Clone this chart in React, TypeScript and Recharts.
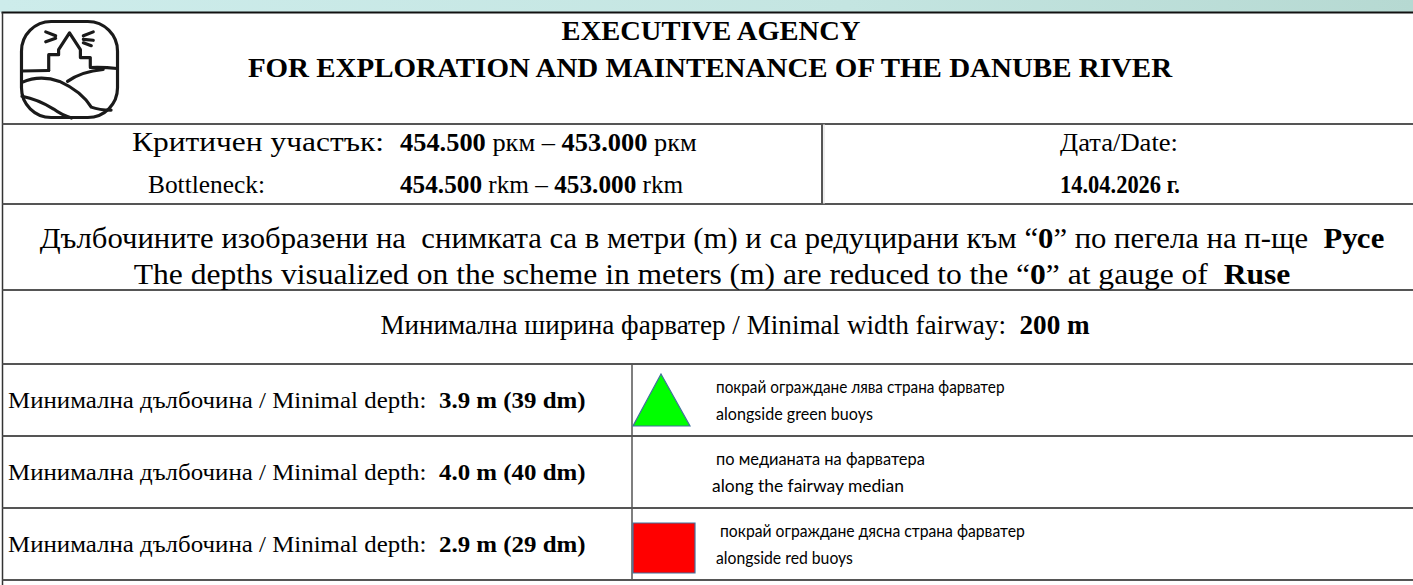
import React, { useLayoutEffect, useRef, useState } from 'react';
import { Surface, Layer, Rectangle, Polygon } from 'recharts';

// ---- content / data ----
const agencyLines = ['EXECUTIVE AGENCY', 'FOR EXPLORATION AND MAINTENANCE OF THE DANUBE RIVER'];
const sectionKm = ['454.500', '453.000'];
const surveyDate = '14.04.2026 г.';
const gaugeBg = 'Русе';
const gaugeEn = 'Ruse';
const minWidthM = 200;
const depthMeters = [3.9, 4.0, 2.9];
const depthLegendBg = [
  'покрай ограждане лява страна фарватер',
  'по медианата на фарватера',
  'покрай ограждане дясна страна фарватер',
];
const depthLegendEn = ['alongside green buoys', 'along the fairway median', 'alongside red buoys'];
const depthMarkers = ['triangle', 'none', 'square'];
const markerFills = ['#00ff00', 'none', '#ff0000'];

// ---- layout ----
const W = 1413;
const H = 585;
const TOP = 12.5;
const LEFT = 2.5;
const rowLines = [124, 204, 290, 364, 436, 508, 580];
const SERIF = '"Liberation Serif", "Times New Roman", serif';
const SANS = 'Lato, "Open Sans", sans-serif';
const LINE = '#555';
const legendBgX = [[716, 1005], [716, 925], [720, 1025]];
const legendEnX = [[716, 873], [712, 904], [716, 853]];

type FitProps = {
  x: number;
  y: number;
  width: number;
  anchor?: 'start' | 'middle';
  size: number;
  bold?: boolean;
  family?: string;
  children: React.ReactNode;
};

function FitText({ x, y, width, anchor = 'start', size, bold, family = SERIF, children }: FitProps) {
  const ref = useRef<SVGTextElement | null>(null);
  const [sx, setSx] = useState(1);
  useLayoutEffect(() => {
    if (ref.current) {
      const w = ref.current.getBBox().width;
      if (w > 0) setSx(width / w);
    }
  }, [width, size]);
  return (
    <g transform={`translate(${x},${y}) scale(${sx},1)`}>
      <text
        ref={ref}
        x={0}
        y={0}
        textAnchor={anchor}
        fontFamily={family}
        fontSize={size}
        fontWeight={bold ? 'bold' : 'normal'}
        fill="#000"
        style={{ whiteSpace: 'pre' }}
      >
        {children}
      </text>
    </g>
  );
}

function Logo({ x, y, s }: { x: number; y: number; s: number }) {
  const k = s / 100;
  return (
    <g transform={`translate(${x},${y}) scale(${k})`} fill="none" stroke="#1a1a1a" strokeWidth={3.2} strokeLinejoin="round" strokeLinecap="round">
      <rect x={1.5} y={1.5} width={97} height={97} rx={30} ry={30} />
      <path d="M26 12 L36 16 M26 22 L36 18.5" />
      <path d="M64 16 L74 12 M64 19.5 L74 20.5 M64 23 L72 26" />
      <path d="M29 51 L29 35 L39 35 L39 30 L50 13 L61 30 L61 38 L71 38 L71 47" />
      <path d="M2 51.5 Q15 51 29 51 M71 48 Q85 47.5 98 49" />
      <path d="M48 62 Q62 52 84 50" />
      <path d="M2 63 Q20 55 40 62 Q62 72 72 88 Q80 91 92 91" />
      <path d="M2 77 Q18 80 34 90 Q42 96 52 99" />
    </g>
  );
}

export default function App() {
  const depthRowTops = rowLines.slice(3, 6);
  return (
    <div style={{ position: 'fixed', left: 0, top: 0, width: W, height: H, background: '#fff' }}>
      <Surface width={W} height={H} viewBox={{ x: 0, y: 0, width: W, height: H }}>
        <defs>
          <linearGradient id="band" x1="0" x2="1" y1="0" y2="0">
            <stop offset="0" stopColor="#cdeceb" />
            <stop offset="0.6" stopColor="#c4e5e1" />
            <stop offset="1" stopColor="#b6d9d2" />
          </linearGradient>
        </defs>
        <rect x={0} y={0} width={W} height={TOP} fill="url(#band)" />
        <rect x={0} y={TOP} width={W} height={H - TOP} fill="#fff" />

        <Layer>
          <line x1={LEFT - 1} x2={W} y1={TOP} y2={TOP} stroke="#111" strokeWidth={2} />
          <line x1={LEFT} x2={LEFT} y1={TOP} y2={H} stroke="#333" strokeWidth={1.5} />
          {rowLines.map((y) => (
            <line key={y} x1={LEFT} x2={W} y1={y} y2={y} stroke={LINE} strokeWidth={2} />
          ))}
          <line x1={822} x2={822} y1={rowLines[0]} y2={rowLines[1]} stroke={LINE} strokeWidth={2} />
          <line x1={824} x2={824} y1={rowLines[0]} y2={rowLines[1]} stroke="#ddd" strokeWidth={1} />
          <line x1={632} x2={632} y1={rowLines[3]} y2={rowLines[6]} stroke={LINE} strokeWidth={1.5} />
        </Layer>

        <Logo x={20} y={20} s={99} />

        <FitText x={711} y={40} width={299} anchor="middle" size={27} bold>{agencyLines[0]}</FitText>
        <FitText x={710} y={77} width={925} anchor="middle" size={27} bold>{agencyLines[1]}</FitText>

        <FitText x={132} y={151} width={252} size={27}>Критичен участък:</FitText>
        <FitText x={400} y={151} width={297} size={25}>
          <tspan fontWeight="bold">{sectionKm[0]}</tspan>
          <tspan> ркм – </tspan>
          <tspan fontWeight="bold">{sectionKm[1]}</tspan>
          <tspan> ркм</tspan>
        </FitText>
        <FitText x={148} y={193} width={117} size={25}>Bottleneck:</FitText>
        <FitText x={400} y={193} width={284} size={25}>
          <tspan fontWeight="bold">{sectionKm[0]}</tspan>
          <tspan> rkm – </tspan>
          <tspan fontWeight="bold">{sectionKm[1]}</tspan>
          <tspan> rkm</tspan>
        </FitText>

        <FitText x={1119} y={151} width={118} anchor="middle" size={26}>Дата/Date:</FitText>
        <FitText x={1120} y={193} width={120} anchor="middle" size={26} bold>{surveyDate}</FitText>

        <FitText x={712} y={248} width={1345} anchor="middle" size={30}>
          <tspan>Дълбочините изобразени на  снимката са в метри (m) и са редуцирани към “</tspan>
          <tspan fontWeight="bold">0</tspan>
          <tspan>” по пегела на п-ще  </tspan>
          <tspan fontWeight="bold">{gaugeBg}</tspan>
        </FitText>
        <FitText x={712} y={284} width={1157} anchor="middle" size={30}>
          <tspan>The depths visualized on the scheme in meters (m) are reduced to the “</tspan>
          <tspan fontWeight="bold">0</tspan>
          <tspan>” at gauge of  </tspan>
          <tspan fontWeight="bold">{gaugeEn}</tspan>
        </FitText>

        <FitText x={735} y={334} width={710} anchor="middle" size={27}>
          <tspan>Минимална ширина фарватер / Minimal width fairway:  </tspan>
          <tspan fontWeight="bold">{`${minWidthM} m`}</tspan>
        </FitText>

        {depthMeters.map((d, i) => (
          <FitText key={i} x={8} y={depthRowTops[i] + 44} width={578} size={24}>
            <tspan>Минимална дълбочина / Minimal depth:  </tspan>
            <tspan fontWeight="bold">{`${d.toFixed(1)} m (${Math.round(d * 10)} dm)`}</tspan>
          </FitText>
        ))}

        {depthMarkers.map((m, i) => {
          const top = depthRowTops[i];
          if (m === 'triangle') {
            return (
              <Polygon
                key={i}
                points={[
                  { x: 661, y: top + 10 },
                  { x: 690, y: top + 62 },
                  { x: 633, y: top + 62 },
                ]}
                fill={markerFills[i]}
                stroke="#41719c"
                strokeWidth={1.2}
              />
            );
          }
          if (m === 'square') {
            return (
              <Rectangle key={i} x={633} y={top + 15} width={62} height={50} fill={markerFills[i]} stroke="#41719c" strokeWidth={1.2} />
            );
          }
          return null;
        })}

        {depthLegendBg.map((t, i) => (
          <FitText key={`bg${i}`} x={legendBgX[i][0]} y={depthRowTops[i] + 29} width={legendBgX[i][1] - legendBgX[i][0]} size={17.5} family={SANS}>{t}</FitText>
        ))}
        {depthLegendEn.map((t, i) => (
          <FitText key={`en${i}`} x={legendEnX[i][0]} y={depthRowTops[i] + 56} width={legendEnX[i][1] - legendEnX[i][0]} size={17.5} family={SANS}>{t}</FitText>
        ))}
      </Surface>
    </div>
  );
}
